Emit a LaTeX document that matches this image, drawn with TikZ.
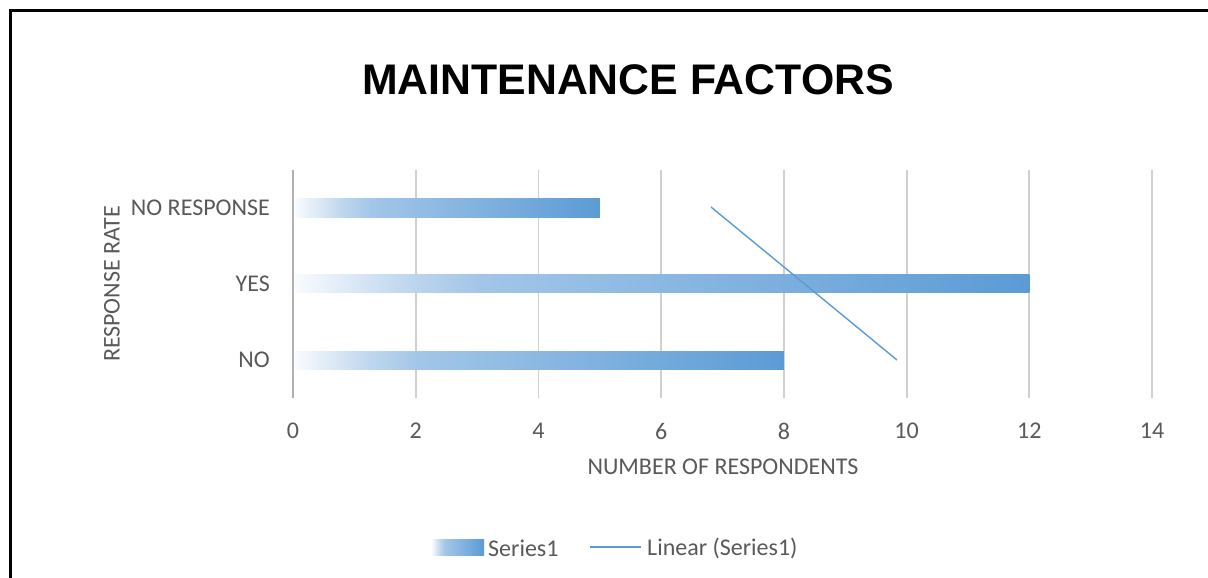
\documentclass[tikz,border=0pt]{standalone}
\usepackage{fontspec}
\setmainfont{Carlito}
\newfontfamily\titlefont{Liberation Sans}
\definecolor{barA}{HTML}{F8FBFE}
\definecolor{barB}{HTML}{C0D7EF}
\definecolor{barC}{HTML}{A3C6E8}
\definecolor{barD}{HTML}{5B9BD5}
\definecolor{txt}{HTML}{595959}
\definecolor{grid}{HTML}{D0D0D0}
\pgfdeclarehorizontalshading{barshade}{100bp}{color(0bp)=(barA); color(25bp)=(barA); color(32.5bp)=(barB); color(37.5bp)=(barC); color(75bp)=(barD); color(100bp)=(barD)}
\begin{document}
\begin{tikzpicture}[x=1pt,y=-1pt,
  lbl/.style={text=txt, font=\fontsize{24}{26}\selectfont, inner sep=0pt},
  gridline/.style={draw=grid, line width=1.8pt},
  barbox/.style={shading=barshade},
  trend/.style={draw=barD, line width=1.4pt}]
\useasboundingbox (0,0) rectangle (1208,578);
\fill[white] (0,0) rectangle (1208,578);
% frame
\draw[line width=3.8pt, black] (10.5,578) -- (10.5,10.5) -- (1208,10.5);
% title
\node[inner sep=0pt, font=\titlefont\bfseries\fontsize{42.8}{46}\selectfont] (title) at (628,80) {MAINTENANCE FACTORS};
% grid
\foreach \v [count=\i from 0] in {0,2,4,6,8,10,12,14} {
  \coordinate (g\i) at ({293+\v*61.36},170);
  \coordinate (gb\i) at ({293+\v*61.36},398);
  \draw[gridline] (g\i) -- (gb\i);
  \node[lbl] (t\i) at ({293+\v*61.36},431) {\v};
}
\draw[draw=grid!85!black, line width=2.4pt] (g0) -- (gb0);
% bars
\shade[barbox] (295,198) rectangle ({293+5*61.36},217);
\shade[barbox] (295,274) rectangle ({293+12*61.36},292);
\shade[barbox] (295,351) rectangle ({293+8*61.36},369);
% trend line
\coordinate (ta) at (711,207);
\coordinate (tb) at (897,360);
\draw[trend] (ta) -- (tb);
% category labels
\node[lbl, anchor=east] (cNR) at (270,208) {NO RESPONSE};
\node[lbl, anchor=east] (cY) at (270,284) {YES};
\node[lbl, anchor=east] (cN) at (270,360) {NO};
% axis titles
\node[lbl] (xt) at (723,467) {NUMBER OF RESPONDENTS};
\node[lbl, rotate=90] (yt) at (112,284) {RESPONSE RATE};
% legend
\shade[barbox] (432,539) rectangle (484,555);
\node[lbl, anchor=west] (l1) at (488,548) {Series1};
\coordinate (la) at (590,547);
\coordinate (lb) at (641,547);
\draw[trend] (la) -- (lb);
\node[lbl, anchor=west] (l2) at (647,548) {Linear (Series1)};
\end{tikzpicture}
\end{document}
